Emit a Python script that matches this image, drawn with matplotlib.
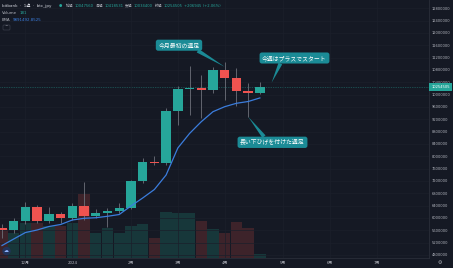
import matplotlib
matplotlib.use('Agg')
import matplotlib.pyplot as plt
from matplotlib.patches import FancyBboxPatch, Circle
from matplotlib.transforms import IdentityTransform

# ---------------- data (weekly BTC/JPY, bitbank) ----------------
week_idx = list(range(23))          # week 0 = 2023-11-20 ... week 22 = 2024-04-22
opens  = [5670000, 5620000, 5886000, 6365000, 5901000, 6128000, 5989000, 6388000,
          6064000, 6170000, 6235000, 6333000, 7198000, 7805000, 7772000, 9468000,
          10172000, 10204000, 10149000, 10798000, 10528000, 10117000, 10047560]
highs  = [5800000, 5990000, 6527000, 6420000, 6365000, 6200000, 6495000, 7156000,
          6300000, 6320000, 6475000, 7230000, 7934000, 8010000, 9556000, 10279000,
          10927000, 10636000, 10905000, 11067000, 10853000, 10366000, 10418531]
lows   = [5350000, 5520000, 5800000, 5850000, 5840000, 5830000, 5930000, 5950000,
          6010000, 5720000, 6160000, 6290000, 7130000, 7720000, 7720000, 9010000,
          9339000, 9230000, 10042000, 9825000, 9630000, 9264000, 10034400]
closes = [5620000, 5886000, 6365000, 5901000, 6128000, 5989000, 6388000, 6064000,
          6170000, 6235000, 6333000, 7198000, 7805000, 7772000, 9468000, 10172000,
          10204000, 10149000, 10798000, 10528000, 10117000, 10047560, 10254505]
volumes = [1406, 1225, 1730, 1730, 1568, 1568, 1730, 3121, 1240, 1485, 1240, 1568,
           1651, 965, 2269, 2220, 2220, 1813, 1406, 1240, 1764, 1485, 181]
ema = [5107000, 5318000, 5528000, 5610000, 5723000, 5788000, 5934000, 5989000,
       6008000, 6054000, 6112000, 6388000, 6647000, 6923000, 7393000, 8268000,
       8739000, 9121000, 9446000, 9608000, 9718000, 9776000, 9891492]

month_pos = [2, 6, 11, 15, 19, 24, 28, 32]
month_labels = ['12月', '2024', '2月', '3月', '4月', '5月', '6月', '7月']
price_ticks = list(range(4800000, 12800001, 400000))

# ---------------- style ----------------
W, H = 453, 268
BG = '#151924'
UP = '#26a69a'
DN = '#ef5350'
UP_V = '#17373a'
DN_V = '#3d232a'
WICK = '#6e717b'
EMA_C = '#3b7ddd'
TXT = '#b2b5be'
CALL = '#1b8b96'
SEP = '#2a2e39'

plt.rcParams['font.family'] = ['DejaVu Sans', 'Noto Sans CJK JP']

fig = plt.figure(figsize=(W / 100, H / 100), dpi=100, facecolor=BG)
rect = [0, 10 / H, 429 / W, 258 / H]
XL = (-0.171, 36.43)

# volume panel (behind)
axv = fig.add_axes(rect, facecolor=BG)
vcol = [UP_V if c >= o else DN_V for o, c in zip(opens, closes)]
axv.bar(week_idx, volumes, width=0.97, color=vcol, zorder=1)
axv.set_xlim(*XL)
axv.set_ylim(0, 12642)
axv.axis('off')

# price panel
ax = fig.add_axes(rect, facecolor='none')
ax.set_xlim(*XL)
ax.set_ylim(4702000, 13067000)
ax.grid(True, color='#1b1f2b', lw=0.5, zorder=0)

for i, o, h, l, c in zip(week_idx, opens, highs, lows, closes):
    col = UP if c >= o else DN
    ax.vlines(i, l, h, color=WICK, lw=0.6, zorder=2)
    body = max(abs(c - o), 25000)
    ax.bar(i, body, bottom=min(o, c), width=0.8, color=col, zorder=3)

ax.plot(week_idx, ema, color=EMA_C, lw=0.9, zorder=4)
ax.axhline(closes[-1], color=UP, lw=0.5, ls=(0, (1, 1.5)), alpha=0.7, zorder=1)

ax.yaxis.tick_right()
ax.set_yticks(price_ticks)
ax.set_yticklabels([str(p) for p in price_ticks])
ax.set_xticks(month_pos)
ax.set_xticklabels(month_labels)
ax.tick_params(axis='y', length=0, pad=2.2, labelsize=2.6, labelcolor=TXT)
ax.tick_params(axis='x', length=0, pad=1.8, labelsize=2.8, labelcolor=TXT)
for s in ['top', 'left']:
    ax.spines[s].set_visible(False)
for s in ['bottom', 'right']:
    ax.spines[s].set_color(SEP)
    ax.spines[s].set_linewidth(0.6)

# last price tag
ax.annotate(str(closes[-1]), xy=(1, closes[-1]), xycoords=('axes fraction', 'data'),
            xytext=(11.5, 0), textcoords='offset pixels', ha='center', va='center',
            fontsize=2.6, color='white',
            bbox=dict(boxstyle='square,pad=0.5', fc=UP, ec='none'), zorder=10,
            annotation_clip=False)

# callouts
jp = ['Noto Sans CJK JP', 'DejaVu Sans']
def callout(text, xy, center_px, relpos):
    ax.annotate(text, xy=xy, xycoords='data',
                xytext=(center_px[0], H - center_px[1]), textcoords='figure pixels',
                ha='center', va='center', fontsize=4.2, color='white', family=jp,
                bbox=dict(boxstyle='round,pad=0.45,rounding_size=0.4', fc=CALL, ec='none'),
                arrowprops=dict(arrowstyle='wedge,tail_width=0.7', fc=CALL, ec='none',
                                shrinkA=0, shrinkB=0, relpos=relpos),
                zorder=8)

callout('今月最初の週足', (19, 10900000), (179, 45.2), (0.85, 0.0))
callout('今週はプラスでスタート', (23, 10386000), (294.5, 58), (0.3, 0.0))
callout('長い下ひげを付けた週足', (21, 9283000), (272.5, 142.3), (0.4, 1.0))

# header legend
fig.canvas.draw()
r = fig.canvas.get_renderer()
def row(items, x0, y_px, size):
    x = x0
    for s, c, gap in items:
        t = fig.text(x / W, 1 - y_px / H, s, color=c, fontsize=size, va='center', ha='left')
        bb = t.get_window_extent(renderer=r)
        x = x + bb.width + gap

chg = closes[-1] - closes[-2]
pct = chg / closes[-2] * 100
row([('bitbank  ·  1週  ·  btc_jpy', '#d1d4dc', 0)], 2, 5.7, 3.0)
row([('●', UP, 4),
     ('始値', TXT, 1.0), (str(opens[-1]), UP, 2.0),
     ('高値', TXT, 1.0), (str(highs[-1]), UP, 2.0),
     ('安値', TXT, 1.0), (str(lows[-1]), UP, 2.0),
     ('終値', TXT, 1.0), (str(closes[-1]), UP, 1.5),
     (f'+{chg} (+{pct:.2f}%)', UP, 0)], 59, 5.7, 2.7)
row([('Volume', TXT, 2.5), (str(volumes[-1]), UP, 0)], 2, 12.5, 2.9)
row([('EMA', TXT, 2.5), (f'{ema[-1]}.8525', EMA_C, 0)], 2, 20, 2.9)

fig.patches.append(FancyBboxPatch((3, H - 30), 7, 5, boxstyle='round,pad=0,rounding_size=1',
                                  fc=BG, ec='#3a3e4a', lw=0.5, transform=IdentityTransform()))
fig.text(6.5 / W, 1 - 27.3 / H, '^', color=TXT, fontsize=3, ha='center', va='center')

# logo and settings
fig.patches.append(Circle((6.5, H - 251), 4.2, fc='#22335a', ec='none', transform=IdentityTransform()))
fig.text(6.5 / W, 1 - 251 / H, '☁', color='#8fb4ff', fontsize=3.5, ha='center', va='center')
fig.text(440 / W, 1 - 263 / H, '⚙', color=TXT, fontsize=3.5, ha='center', va='center')

fig.savefig('out.png', dpi=100, facecolor=BG)
